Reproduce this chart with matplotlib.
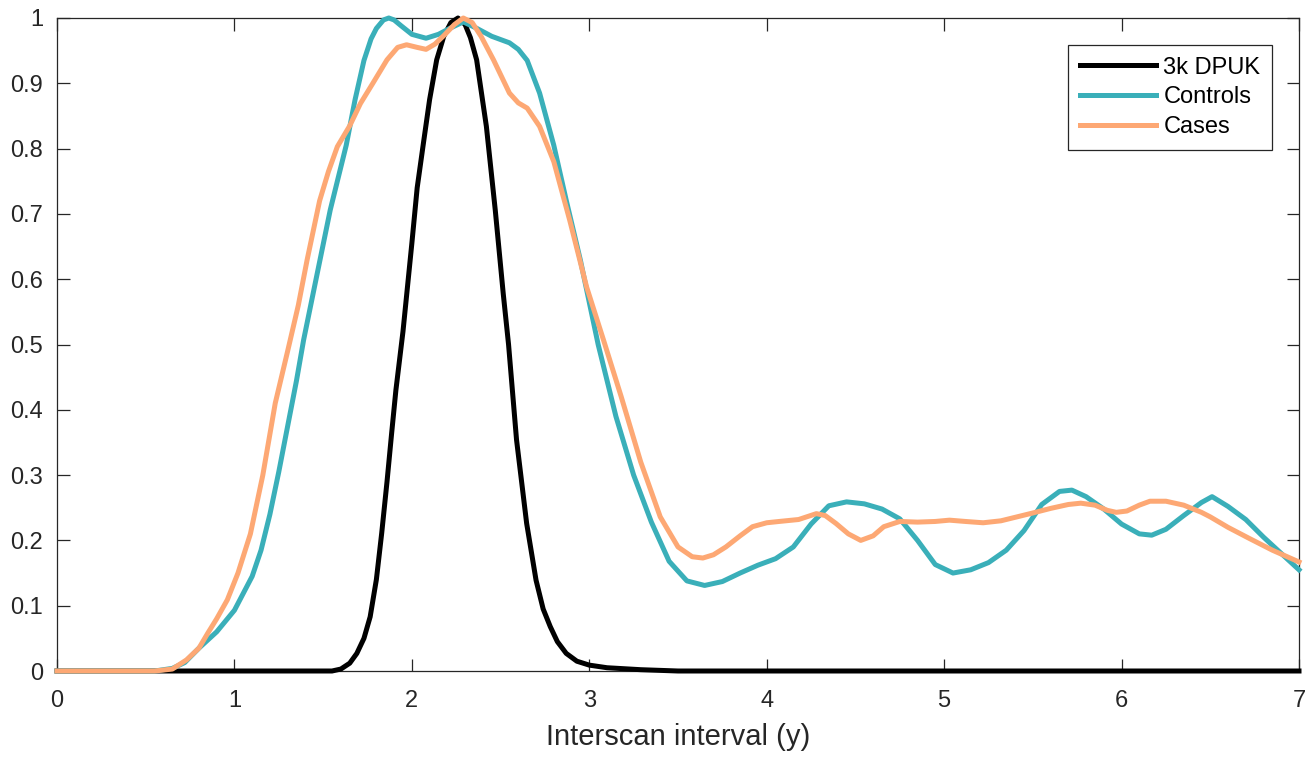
import matplotlib
matplotlib.use("Agg")
import matplotlib.pyplot as plt
from matplotlib.ticker import FixedLocator, FuncFormatter

plt.rcParams['font.family'] = ['Liberation Sans', 'DejaVu Sans']

# ---- data ----
dpuk_x = [0, 1.55, 1.6, 1.65, 1.69, 1.73, 1.765, 1.8, 1.83, 1.86, 1.886, 1.91, 1.95, 2.0, 2.03,
          2.065, 2.1, 2.14, 2.18, 2.22, 2.26, 2.3, 2.33, 2.365, 2.42, 2.47, 2.515, 2.545, 2.59,
          2.647, 2.70, 2.74, 2.78, 2.82, 2.87, 2.93, 3.0, 3.1, 3.29, 3.5, 7.0]
dpuk_y = [0, 0, 0.003, 0.012, 0.027, 0.05, 0.083, 0.14, 0.211, 0.29, 0.364, 0.43, 0.52, 0.655, 0.74,
          0.808, 0.875, 0.936, 0.972, 0.993, 1.0, 0.99, 0.97, 0.936, 0.834, 0.706, 0.578, 0.50, 0.354,
          0.226, 0.139, 0.095, 0.068, 0.045, 0.027, 0.015, 0.009, 0.005, 0.002, 0.0, 0.0]

controls_x = [0, 0.55, 0.65, 0.72, 0.8, 0.9, 1.0, 1.1, 1.15, 1.2, 1.25, 1.3, 1.35, 1.39, 1.46, 1.54,
              1.63, 1.68, 1.73, 1.77, 1.8, 1.84, 1.87, 1.9, 1.94, 2.0, 2.08, 2.15, 2.22, 2.29, 2.36,
              2.45, 2.55, 2.6, 2.65, 2.72, 2.8, 2.87, 2.95, 3.05, 3.15, 3.25, 3.35, 3.45, 3.55, 3.65,
              3.75, 3.85, 3.95, 4.05, 4.15, 4.25, 4.35, 4.45, 4.55, 4.65, 4.75, 4.85, 4.95, 5.05,
              5.15, 5.25, 5.35, 5.45, 5.55, 5.65, 5.72, 5.8, 5.9, 6.0, 6.1, 6.17, 6.25, 6.35, 6.45,
              6.51, 6.6, 6.7, 6.8, 6.9, 7.0]
controls_y = [0, 0, 0.004, 0.013, 0.035, 0.06, 0.093, 0.145, 0.185, 0.24, 0.305, 0.375, 0.445, 0.507,
              0.60, 0.706, 0.805, 0.875, 0.935, 0.968, 0.984, 0.997, 1.0, 0.997, 0.988, 0.975, 0.969,
              0.975, 0.985, 0.994, 0.985, 0.972, 0.962, 0.952, 0.935, 0.885, 0.805, 0.721, 0.629,
              0.50, 0.39, 0.30, 0.228, 0.168, 0.138, 0.131, 0.137, 0.15, 0.162, 0.172, 0.19, 0.225,
              0.253, 0.259, 0.256, 0.248, 0.233, 0.20, 0.163, 0.150, 0.155, 0.166, 0.185, 0.215,
              0.255, 0.275, 0.277, 0.267, 0.248, 0.225, 0.21, 0.208, 0.217, 0.238, 0.258, 0.267,
              0.252, 0.232, 0.205, 0.18, 0.155]

cases_x = [0, 0.55, 0.65, 0.73, 0.8, 0.85, 0.9, 0.96, 1.02, 1.09, 1.16, 1.23, 1.3, 1.36, 1.41, 1.48,
           1.53, 1.58, 1.65, 1.71, 1.78, 1.86, 1.92, 1.97, 2.03, 2.08, 2.13, 2.18, 2.24, 2.29, 2.34,
           2.39, 2.46, 2.55, 2.6, 2.65, 2.72, 2.8, 2.89, 2.985, 3.08, 3.18, 3.29, 3.4, 3.5, 3.58,
           3.64, 3.7, 3.77, 3.85, 3.92, 4.0, 4.07, 4.18, 4.28, 4.33, 4.39, 4.46, 4.53, 4.6, 4.66,
           4.75, 4.85, 4.95, 5.03, 5.12, 5.22, 5.32, 5.41, 5.5, 5.6, 5.7, 5.77, 5.85, 5.92, 5.97,
           6.03, 6.1, 6.16, 6.25, 6.35, 6.45, 6.5, 6.6, 6.72, 6.85, 7.0]
cases_y = [0, 0, 0.003, 0.017, 0.035, 0.058, 0.08, 0.109, 0.15, 0.21, 0.30, 0.41, 0.49, 0.56, 0.63,
           0.72, 0.765, 0.803, 0.835, 0.869, 0.90, 0.936, 0.955, 0.959, 0.955, 0.952, 0.96, 0.973,
           0.99, 1.0, 0.993, 0.972, 0.936, 0.885, 0.87, 0.862, 0.834, 0.78, 0.69, 0.588, 0.507,
           0.42, 0.32, 0.236, 0.19, 0.175, 0.173, 0.178, 0.19, 0.207, 0.221, 0.227, 0.229, 0.232,
           0.241, 0.238, 0.226, 0.21, 0.20, 0.207, 0.221, 0.229, 0.228, 0.229, 0.231, 0.229, 0.227,
           0.23, 0.236, 0.242, 0.249, 0.255, 0.257, 0.254, 0.246, 0.243, 0.245, 0.254, 0.26, 0.26,
           0.254, 0.243, 0.236, 0.22, 0.203, 0.185, 0.167]

x_ticks = [0, 1, 2, 3, 4, 5, 6, 7]
y_ticks = [0, 0.1, 0.2, 0.3, 0.4, 0.5, 0.6, 0.7, 0.8, 0.9, 1.0]
series_labels = ['3k DPUK', 'Controls', 'Cases']
x_label = 'Interscan interval (y)'

# ---- drawing ----
W, H = 1316, 758
fig = plt.figure(figsize=(W / 100, H / 100), dpi=100)
ax = fig.add_axes([57 / W, (H - 671) / H, (1299 - 57) / W, (671 - 18) / H])

lw = 3.6
ax.plot(dpuk_x, dpuk_y, color='black', lw=lw, label=series_labels[0],
        solid_joinstyle='round', clip_on=False, zorder=3)
ax.plot(controls_x, controls_y, color='#3AAFB9', lw=lw, label=series_labels[1],
        solid_joinstyle='round', clip_on=False, zorder=4)
ax.plot(cases_x, cases_y, color='#FDA874', lw=lw, label=series_labels[2],
        solid_joinstyle='round', clip_on=False, zorder=5)

ax.set_xlim(0, 7)
ax.set_ylim(0, 1)
ax.xaxis.set_major_locator(FixedLocator(x_ticks))
ax.yaxis.set_major_locator(FixedLocator(y_ticks))
fmt = FuncFormatter(lambda v, p: '%g' % round(v, 3))
ax.xaxis.set_major_formatter(fmt)
ax.yaxis.set_major_formatter(fmt)

axis_col = '#262626'
ax.tick_params(direction='in', length=9, width=0.9, colors=axis_col,
               labelsize=17, top=True, right=True)
ax.tick_params(axis='x', pad=13.5)
ax.tick_params(axis='y', pad=10)
for s in ax.spines.values():
    s.set_color(axis_col)
    s.set_linewidth(0.9)

ax.set_xlabel(x_label, fontsize=21, color=axis_col, labelpad=8)

leg = ax.legend(loc='upper right', bbox_to_anchor=(0.9785, 0.959), fontsize=17,
                handlelength=3.25, handletextpad=0.3, borderpad=0.5, labelspacing=0.33,
                fancybox=False, framealpha=1, borderaxespad=0)
leg.get_frame().set_edgecolor(axis_col)
leg.get_frame().set_linewidth(0.9)
for t in leg.get_texts():
    t.set_color('black')

fig.savefig('out.png', dpi=100)
